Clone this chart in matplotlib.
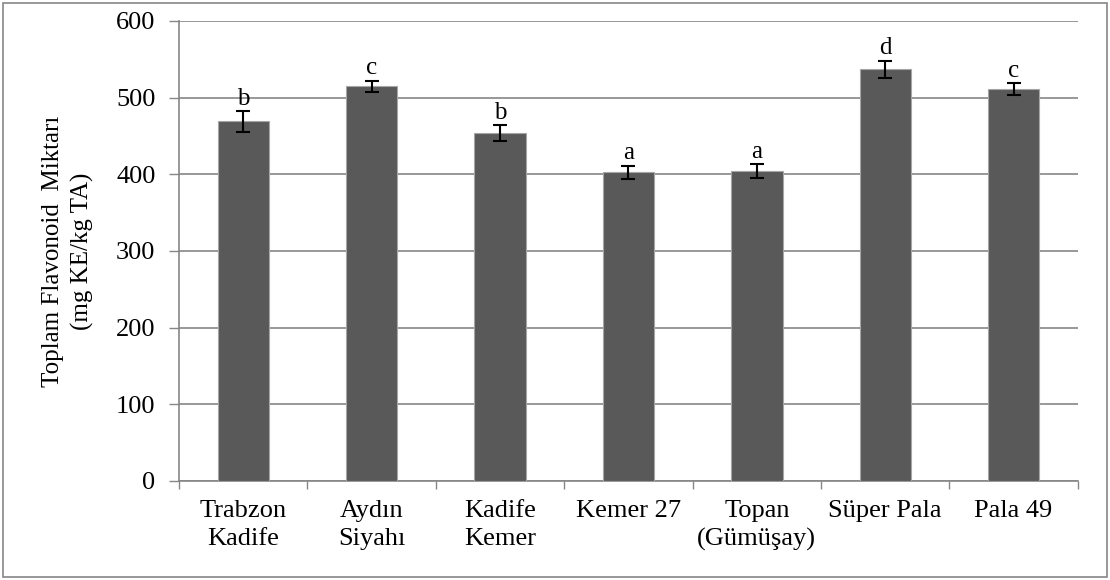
import matplotlib.pyplot as plt
from matplotlib.patches import Rectangle
from matplotlib.ticker import FixedLocator

plt.rcParams['font.family'] = ['Liberation Serif', 'DejaVu Serif']

# Cultivar names, means, standard errors and significance letters.
cultivars = ['Trabzon\nKadife', 'Aydın\nSiyahı', 'Kadife\nKemer', 'Kemer 27',
             'Topan\n(Gümüşay)', 'Süper Pala', 'Pala 49']
flavonoid = [469, 515, 454, 403, 404, 537, 511]
errors = [13.5, 7, 10, 8.5, 9, 11, 8]
letters = ['b', 'c', 'b', 'a', 'a', 'd', 'c']

fig = plt.figure(figsize=(11.1, 5.8), dpi=100)
ax = fig.add_axes([0.1613, 0.1707, 0.8097, 0.7931])

pos = list(range(len(cultivars)))
ax.bar(pos, flavonoid, width=0.4, color='#595959', edgecolor='#a6a6a6',
       linewidth=0.8, zorder=3)
ax.errorbar(pos, flavonoid, yerr=errors, fmt='none', ecolor='black',
            elinewidth=1.5, capsize=5, capthick=1.5, zorder=4)

for i in pos:
    ax.annotate(letters[i], (i, flavonoid[i] + errors[i]), xytext=(0, 1),
                textcoords='offset points', ha='center', va='bottom',
                fontsize=18)

ax.set_xlim(-0.5, len(cultivars) - 0.5)
ax.set_ylim(0, 600)
ax.set_yticks(range(0, 601, 100))
ax.set_xticks(pos)
ax.set_xticklabels(cultivars, fontsize=19, linespacing=1.3)
ax.xaxis.set_minor_locator(FixedLocator([p - 0.5 for p in range(len(cultivars) + 1)]))
ax.tick_params(axis='x', which='major', length=0, pad=14)
ax.tick_params(axis='x', which='minor', length=6, color='#868686', width=1)
ax.tick_params(axis='y', length=7, color='#868686', width=1, labelsize=19, pad=10)

ax.grid(axis='y', color='#868686', linewidth=1.2, zorder=0)
ax.set_axisbelow(True)
for s in ['top', 'right']:
    ax.spines[s].set_visible(False)
for s in ['left', 'bottom']:
    ax.spines[s].set_color('#868686')
    ax.spines[s].set_linewidth(1.2)

ax.set_ylabel('Toplam Flavonoid  Miktarı\n(mg KE/kg TA)', fontsize=18,
              linespacing=1.35, labelpad=16)

# Outer chart frame.
fig.patches.append(Rectangle((0.003, 0.005), 0.994, 0.99, transform=fig.transFigure,
                             fill=False, edgecolor='#868686', linewidth=1.2))

fig.savefig('out.png', dpi=100)
